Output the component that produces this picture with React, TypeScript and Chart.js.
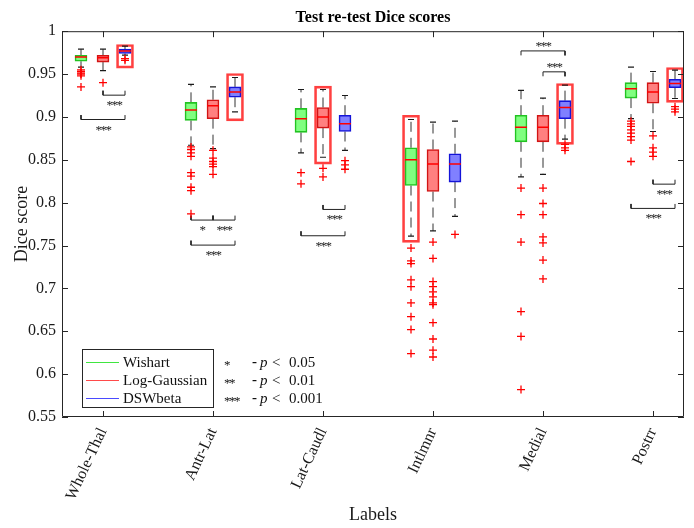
import React, { useEffect, useRef } from 'react';
import { Chart, registerables } from 'chart.js';

Chart.register(...registerables);

// ---------- data ----------
const categories = ['Whole-Thal', 'Antr-Lat', 'Lat-Caudl', 'Intlmnr', 'Medial', 'Postrr'];
const methods = ['Wishart', 'Log-Gaussian', 'DSWbeta'];
const yTickValues = [0.55, 0.6, 0.65, 0.7, 0.75, 0.8, 0.85, 0.9, 0.95, 1];

// Wishart
const wishartLow = [0.958, 0.867, 0.858, 0.761, 0.830, 0.898];
const wishartQ1 = [0.965, 0.896, 0.882, 0.820, 0.871, 0.922];
const wishartMedian = [0.970, 0.908, 0.898, 0.850, 0.888, 0.933];
const wishartQ3 = [0.972, 0.917, 0.910, 0.864, 0.902, 0.940];
const wishartHigh = [0.979, 0.938, 0.932, 0.897, 0.931, 0.958];
const wishartOutliers = [
  [0.955, 0.953, 0.951, 0.950, 0.948, 0.935],
  [0.865, 0.862, 0.858, 0.854, 0.835, 0.831, 0.818, 0.814, 0.787],
  [0.835, 0.822],
  [0.747, 0.732, 0.729, 0.710, 0.702, 0.683, 0.667, 0.652, 0.624],
  [0.817, 0.786, 0.754, 0.673, 0.644, 0.582],
  [0.895, 0.892, 0.889, 0.885, 0.881, 0.877, 0.873, 0.848],
];

// Log-Gaussian
const logGaussLow = [0.954, 0.863, 0.853, 0.767, 0.833, 0.883];
const logGaussQ1 = [0.964, 0.898, 0.887, 0.813, 0.871, 0.916];
const logGaussMedian = [0.969, 0.913, 0.900, 0.845, 0.888, 0.929];
const logGaussQ3 = [0.972, 0.920, 0.911, 0.862, 0.902, 0.940];
const logGaussHigh = [0.979, 0.935, 0.932, 0.894, 0.922, 0.953];
const logGaussOutliers = [
  [0.940],
  [0.861, 0.852, 0.848, 0.845, 0.842, 0.833],
  [0.840, 0.830],
  [0.754, 0.735, 0.708, 0.702, 0.696, 0.690, 0.683, 0.681, 0.660, 0.641, 0.628, 0.620],
  [0.817, 0.799, 0.786, 0.760, 0.753, 0.733, 0.711],
  [0.878, 0.864, 0.859, 0.854],
];

// DSWbeta
const dswLow = [0.972, 0.906, 0.861, 0.784, 0.874, 0.9215];
const dswQ1 = [0.974, 0.923, 0.883, 0.824, 0.898, 0.934];
const dswMedian = [0.977, 0.929, 0.892, 0.845, 0.911, 0.939];
const dswQ3 = [0.979, 0.935, 0.902, 0.857, 0.919, 0.944];
const dswHigh = [0.9825, 0.946, 0.925, 0.895, 0.937, 0.9545];
const dswOutliers = [
  [0.968, 0.966],
  [],
  [0.849, 0.844, 0.839],
  [0.763],
  [0.868, 0.864, 0.861],
  [0.912, 0.909, 0.906],
];

// highlighted (best) boxes
const highlightMethod = [2, 2, 1, 0, 2, 2];
const highlightCategory = [0, 1, 2, 3, 4, 5];
const highlightLow = [0.957, 0.8954, 0.845, 0.7537, 0.868, 0.917];
const highlightHigh = [0.9845, 0.9507, 0.936, 0.902, 0.939, 0.9577];

// significance brackets
const bracketCategory = [0, 0, 1, 1, 1, 2, 2, 4, 4, 5, 5];
const bracketFrom = [1, 0, 0, 1, 0, 1, 0, 0, 1, 1, 0];
const bracketTo = [2, 2, 1, 2, 2, 2, 2, 2, 2, 2, 2];
const bracketLevel = [0.9254, 0.897, 0.7797, 0.7797, 0.7505, 0.7921, 0.7614, 0.977, 0.9526, 0.8216, 0.7933];
const bracketUp = [true, true, true, true, true, true, true, false, false, true, true];
const bracketStars = ['***', '***', '*', '***', '***', '***', '***', '***', '***', '***', '***'];

const sigStars = ['*', '**', '***'];
const sigThresholds = ['0.05', '0.01', '0.001'];

// ---------- styling / layout helpers ----------
const SERIF = "'Liberation Serif', 'Times New Roman', serif";
const methodOffset = [-0.2, 0, 0.2];
const fillColors = ['#80ff80', '#ff8080', '#8080ff'];
const edgeColors = ['#22c322', '#d21414', '#1414d8'];
const legendColors = ['#40e640', '#ff4a4a', '#4a4aff'];

const pos = (m: number, c: number) => c + 1 + methodOffset[m];

const stats = [
  { low: wishartLow, q1: wishartQ1, med: wishartMedian, q3: wishartQ3, high: wishartHigh, out: wishartOutliers },
  { low: logGaussLow, q1: logGaussQ1, med: logGaussMedian, q3: logGaussQ3, high: logGaussHigh, out: logGaussOutliers },
  { low: dswLow, q1: dswQ1, med: dswMedian, q3: dswQ3, high: dswHigh, out: dswOutliers },
];

const starFont = `13px ${SERIF}`;

const decorPlugin = {
  id: 'decor',
  afterDatasetsDraw(chart: any) {
    const { ctx, scales } = chart;
    const x = scales.x;
    const y = scales.y;
    ctx.save();
    ctx.fillStyle = '#1a1a1a';
    ctx.font = starFont;
    (ctx as any).letterSpacing = '-1.5px';
    ctx.textAlign = 'center';
    ctx.textBaseline = 'alphabetic';
    bracketCategory.forEach((c, i) => {
      const x1 = x.getPixelForValue(pos(bracketFrom[i], c));
      const x2 = x.getPixelForValue(pos(bracketTo[i], c));
      const py = y.getPixelForValue(bracketLevel[i]);
      const mx = (x1 + x2) / 2;
      if (bracketUp[i]) ctx.fillText(bracketStars[i], mx, py + 14);
      else ctx.fillText(bracketStars[i], mx, py - 1);
    });
    ctx.restore();
  },
  afterDraw(chart: any) {
    const { ctx, chartArea: ca, scales } = chart;
    const x = scales.x;
    const y = scales.y;
    ctx.save();
    // axes box + inward ticks
    ctx.strokeStyle = '#262626';
    ctx.lineWidth = 1;
    ctx.beginPath();
    ctx.rect(ca.left + 0.5, ca.top + 0.5, ca.right - ca.left - 1, ca.bottom - ca.top - 1);
    y.ticks.forEach((t: any) => {
      const py = Math.round(y.getPixelForValue(t.value)) + 0.5;
      ctx.moveTo(ca.left, py);
      ctx.lineTo(ca.left + 6, py);
      ctx.moveTo(ca.right, py);
      ctx.lineTo(ca.right - 6, py);
    });
    x.ticks.forEach((t: any) => {
      const px = Math.round(x.getPixelForValue(t.value)) + 0.5;
      ctx.moveTo(px, ca.bottom);
      ctx.lineTo(px, ca.bottom - 6);
      ctx.moveTo(px, ca.top);
      ctx.lineTo(px, ca.top + 6);
    });
    ctx.stroke();

    // legend
    const lx = ca.left + 20;
    const ly = ca.bottom - 68;
    const lw = 131;
    const lh = 58;
    ctx.fillStyle = '#ffffff';
    ctx.fillRect(lx, ly, lw, lh);
    ctx.strokeStyle = '#262626';
    ctx.strokeRect(lx + 0.5, ly + 0.5, lw, lh);
    ctx.font = `15px ${SERIF}`;
    ctx.textBaseline = 'middle';
    ctx.textAlign = 'left';
    chart.data.datasets
      .filter((d: any) => d.isMethod)
      .forEach((d: any, i: number) => {
        const ry = ly + 13 + i * 18;
        ctx.strokeStyle = legendColors[i];
        ctx.lineWidth = 1;
        ctx.beginPath();
        ctx.moveTo(lx + 4, ry + 0.5);
        ctx.lineTo(lx + 37, ry + 0.5);
        ctx.stroke();
        ctx.fillStyle = '#111';
        ctx.fillText(d.label, lx + 41, ry + 1);
      });

    // significance key
    sigStars.forEach((s, i) => {
      const ry = ly + 13 + i * 18;
      ctx.fillStyle = '#111';
      ctx.font = starFont;
      (ctx as any).letterSpacing = '-1.5px';
      ctx.textBaseline = 'alphabetic';
      ctx.fillText(s, ca.left + 162, ry + 7);
      (ctx as any).letterSpacing = '0px';
      ctx.font = `bold 15px ${SERIF}`;
      ctx.textBaseline = 'middle';
      ctx.fillText('-', ca.left + 190, ry);
      ctx.font = `italic 15px ${SERIF}`;
      ctx.fillText('p', ca.left + 198, ry + 1);
      ctx.font = `15px ${SERIF}`;
      ctx.fillText('<', ca.left + 210, ry + 1);
      ctx.fillText(sigThresholds[i], ca.left + 227, ry + 1);
    });
    ctx.restore();
  },
};

export default function App() {
  const ref = useRef<HTMLCanvasElement>(null);

  useEffect(() => {
    document.body.style.margin = '0';
    const canvas = ref.current;
    if (!canvas) return;

    const boxDatasets = stats.map((s, m) => ({
      type: 'bar' as const,
      label: methods[m],
      isMethod: true,
      data: categories.map((_, c) => ({ x: pos(m, c), y: [s.q1[c], s.q3[c]] })),
      backgroundColor: fillColors[m],
      borderColor: edgeColors[m],
      borderWidth: 1.6,
      borderSkipped: false,
      barThickness: 12,
      grouped: false,
      order: 3,
    }));

    const highlightDataset = {
      type: 'bar' as const,
      label: 'best',
      data: highlightCategory.map((c, i) => ({ x: pos(highlightMethod[i], c), y: [highlightLow[i], highlightHigh[i]] })),
      backgroundColor: 'rgba(0,0,0,0)',
      borderColor: 'rgba(255,30,30,0.85)',
      borderWidth: 2,
      borderSkipped: false,
      barThickness: 17,
      grouped: false,
      order: 6,
    };

    const whiskerData: any[] = [];
    const capData: any[] = [];
    const medianData: any[] = [];
    const outlierData: any[] = [];
    stats.forEach((s, m) => {
      categories.forEach((_, c) => {
        const px = pos(m, c);
        whiskerData.push({ x: px, y: s.q3[c] }, { x: px, y: s.high[c] }, { x: px, y: null });
        whiskerData.push({ x: px, y: s.q1[c] }, { x: px, y: s.low[c] }, { x: px, y: null });
        capData.push({ x: px, y: s.high[c] }, { x: px, y: s.low[c] });
        medianData.push({ x: px, y: s.med[c] });
        s.out[c].forEach((v) => outlierData.push({ x: px, y: v }));
      });
    });

    const bracketData: any[] = [];
    bracketCategory.forEach((c, i) => {
      const x1 = pos(bracketFrom[i], c);
      const x2 = pos(bracketTo[i], c);
      const lv = bracketLevel[i];
      const tip = bracketUp[i] ? lv + 0.0052 : lv - 0.0052;
      bracketData.push({ x: x1, y: tip }, { x: x1, y: lv }, { x: x2, y: lv }, { x: x2, y: tip }, { x: x2, y: null });
    });

    const chart = new Chart(canvas, {
      type: 'bar',
      data: {
        datasets: [
          highlightDataset,
          {
            type: 'line',
            label: 'whiskers',
            data: whiskerData,
            borderColor: '#333',
            borderWidth: 1,
            borderDash: [10, 6],
            pointRadius: 0,
            spanGaps: false,
            fill: false,
            order: 5,
          },
          {
            type: 'line',
            label: 'brackets',
            data: bracketData,
            borderColor: '#222',
            borderWidth: 1,
            pointRadius: 0,
            spanGaps: false,
            fill: false,
            order: 5,
          },
          ...boxDatasets,
          {
            type: 'scatter',
            label: 'caps',
            data: capData,
            pointStyle: 'line',
            pointRadius: 3,
            borderColor: '#1a1a1a',
            borderWidth: 1.2,
            order: 2,
          },
          {
            type: 'scatter',
            label: 'medians',
            data: medianData,
            pointStyle: 'line',
            pointRadius: 6,
            borderColor: '#ff0000',
            borderWidth: 1.5,
            order: 2,
          },
          {
            type: 'scatter',
            label: 'outliers',
            data: outlierData,
            pointStyle: 'cross',
            pointRadius: 4,
            borderColor: '#ff0000',
            borderWidth: 1.3,
            order: 1,
          },
        ] as any,
      },
      options: {
        responsive: false,
        animation: false,
        devicePixelRatio: 1,
        layout: { padding: { left: 0, right: 10, top: 0, bottom: 0 } },
        plugins: {
          legend: { display: false },
          tooltip: { enabled: false },
          title: {
            display: true,
            text: 'Test re-test Dice scores',
            fullSize: false,
            color: '#000',
            font: { family: SERIF, size: 16, weight: 'bold' },
            padding: { top: 8, bottom: 4 },
          },
        },
        scales: {
          x: {
            type: 'linear',
            min: 1 - 41 / 110,
            max: 6 + 31 / 110,
            offset: false,
            grid: { display: false, drawTicks: false, offset: false },
            border: { display: false },
            afterBuildTicks: (scale: any) => {
              scale.ticks = categories.map((_, i) => ({ value: i + 1 }));
            },
            afterFit: (scale: any) => {
              scale.height = 111;
            },
            ticks: {
              autoSkip: false,
              minRotation: 65,
              maxRotation: 65,
              padding: 8,
              color: '#1a1a1a',
              font: { family: SERIF, size: 16 },
              callback: (v: any) => categories[Math.round(Number(v)) - 1] ?? '',
            },
            title: {
              display: true,
              text: 'Labels',
              color: '#1a1a1a',
              font: { family: SERIF, size: 18 },
              padding: { top: 2, bottom: 2 },
            },
          },
          y: {
            type: 'linear',
            min: 0.55,
            max: 1,
            grid: { display: false, drawTicks: false },
            border: { display: false },
            afterBuildTicks: (scale: any) => {
              scale.ticks = yTickValues.map((v) => ({ value: v }));
            },
            afterFit: (scale: any) => {
              scale.width = 62;
            },
            ticks: {
              padding: 6,
              color: '#1a1a1a',
              font: { family: SERIF, size: 16 },
              callback: (v: any) => String(Number(Number(v).toFixed(2))),
            },
            title: {
              display: true,
              text: 'Dice score',
              color: '#1a1a1a',
              font: { family: SERIF, size: 18 },
              padding: { top: 11, bottom: 0 },
            },
          },
        },
      } as any,
      plugins: [decorPlugin],
    });

    return () => chart.destroy();
  }, []);

  return (
    <div style={{ width: 694, height: 528 }}>
      <canvas ref={ref} width={694} height={528} style={{ display: 'block' }} />
    </div>
  );
}
